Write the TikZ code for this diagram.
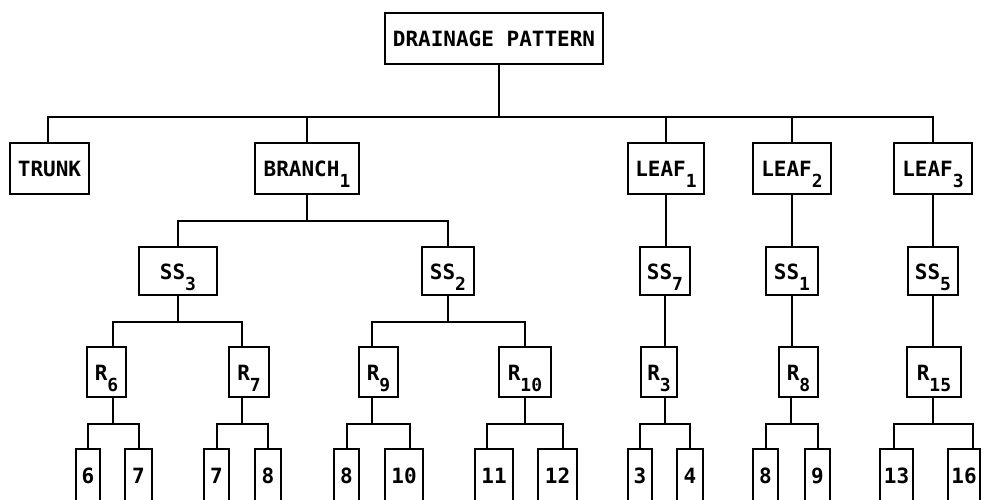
\documentclass[tikz,border=0pt]{standalone}
\usepackage{fontspec}
\setmonofont{DejaVu Sans Mono}
\newcommand{\sbs}[1]{\raisebox{-11pt}{\fontsize{18}{18}\selectfont #1}}
\newcommand{\bxn}[6]{\node[bx, minimum width={(#4)-(#2)}, minimum height={(#5)-(#3)}] (#1) at ({((#2)+(#4))/2},{((#3)+(#5))/2}) {#6};}
\begin{document}
\begin{tikzpicture}[x=1pt,y=-1pt,
  bx/.style={draw, line width=2pt, inner sep=0pt, text height=16pt, text depth=0pt, font=\ttfamily\bfseries\fontsize{21}{21}\selectfont},
  ln/.style={line width=2pt}]
\useasboundingbox (0,0) rectangle (987,500);
\clip (0,0) rectangle (987,500);
% level 1
\bxn{root}{385}{13}{603}{64}{DRAINAGE PATTERN}
% level 2
\bxn{trunk}{10}{143}{89}{194}{TRUNK}
\bxn{branch}{255}{143}{359}{194}{BRANCH\sbs{1}}
\bxn{leafa}{628}{143}{704}{194}{LEAF\sbs{1}}
\bxn{leafb}{753}{143}{831}{194}{LEAF\sbs{2}}
\bxn{leafc}{894}{143}{972}{194}{LEAF\sbs{3}}
% level 3
\bxn{ssthree}{139}{247}{217}{295}{SS\sbs{3}}
\bxn{sstwo}{422}{247}{474}{295}{SS\sbs{2}}
\bxn{ssseven}{640}{247}{690}{295}{SS\sbs{7}}
\bxn{ssone}{766}{247}{818}{295}{SS\sbs{1}}
\bxn{ssfive}{908}{247}{958}{295}{SS\sbs{5}}
% level 4
\bxn{rsix}{87}{347}{126}{397}{R\sbs{6}}
\bxn{rseven}{229}{347}{269}{397}{R\sbs{7}}
\bxn{rnine}{359}{347}{398}{397}{R\sbs{9}}
\bxn{rten}{499}{347}{551}{397}{R\sbs{10}}
\bxn{rthree}{641}{347}{677}{397}{R\sbs{3}}
\bxn{reight}{779}{347}{818}{397}{R\sbs{8}}
\bxn{rfifteen}{907}{347}{961}{397}{R\sbs{15}}
% level 5
\bxn{n1}{76}{449}{100}{501}{6}
\bxn{n2}{125}{449}{152}{501}{7}
\bxn{n3}{204}{449}{229}{501}{7}
\bxn{n4}{255}{449}{281}{501}{8}
\bxn{n5}{334}{449}{359}{501}{8}
\bxn{n6}{385}{449}{423}{501}{10}
\bxn{n7}{475}{449}{513}{501}{11}
\bxn{n8}{538}{449}{577}{501}{12}
\bxn{n9}{628}{449}{652}{501}{3}
\bxn{n10}{677}{449}{703}{501}{4}
\bxn{n11}{753}{449}{778}{501}{8}
\bxn{n12}{805}{449}{830}{501}{9}
\bxn{n13}{880}{449}{913}{501}{13}
\bxn{n14}{948}{449}{980}{501}{16}
% connectors level 1 -> 2
\draw[ln] ([xshift=5pt]root.south) -- ++(0,52) -| ([xshift=-1.5pt]trunk.north);
\draw[ln] ([xshift=5pt]root.south) -- ++(0,52) -| (branch.north);
\draw[ln] ([xshift=5pt]root.south) -- ++(0,52) -| (leafa.north);
\draw[ln] ([xshift=5pt]root.south) -- ++(0,52) -| (leafb.north);
\draw[ln] ([xshift=5pt]root.south) -- ++(0,52) -| (leafc.north);
% level 2 -> 3
\draw[ln] (branch.south) -- ++(0,26) -| (ssthree.north);
\draw[ln] (branch.south) -- ++(0,26) -| (sstwo.north);
\draw[ln] (leafa.south) -- (leafa.south |- ssseven.north);
\draw[ln] (leafb.south) -- (leafb.south |- ssone.north);
\draw[ln] (leafc.south) -- (leafc.south |- ssfive.north);
% level 3 -> 4
\draw[ln] (ssthree.south) -- ++(0,26) -| ([xshift=6.5pt]rsix.north);
\draw[ln] (ssthree.south) -- ++(0,26) -| ([xshift=-7pt]rseven.north);
\draw[ln] (sstwo.south) -- ++(0,26) -| ([xshift=-6.5pt]rnine.north);
\draw[ln] (sstwo.south) -- ++(0,26) -| (rten.north);
\draw[ln] (ssseven.south) -- (ssseven.south |- rthree.north);
\draw[ln] (ssone.south) -- (ssone.south |- reight.north);
\draw[ln] (ssfive.south) -- (ssfive.south |- rfifteen.north);
% level 4 -> 5
\draw[ln] ([xshift=6.5pt]rsix.south) -- ++(0,26) -| (n1.north);
\draw[ln] ([xshift=6.5pt]rsix.south) -- ++(0,26) -| (n2.north);
\draw[ln] ([xshift=-7pt]rseven.south) -- ++(0,26) -| (n3.north);
\draw[ln] ([xshift=-7pt]rseven.south) -- ++(0,26) -| (n4.north);
\draw[ln] ([xshift=-6.5pt]rnine.south) -- ++(0,26) -| (n5.north);
\draw[ln] ([xshift=-6.5pt]rnine.south) -- ++(0,26) -| ([xshift=6pt]n6.north);
\draw[ln] (rten.south) -- ++(0,26) -| ([xshift=-7pt]n7.north);
\draw[ln] (rten.south) -- ++(0,26) -| ([xshift=5.5pt]n8.north);
\draw[ln] ([xshift=6pt]rthree.south) -- ++(0,26) -| (n9.north);
\draw[ln] ([xshift=6pt]rthree.south) -- ++(0,26) -| (n10.north);
\draw[ln] ([xshift=-7.5pt]reight.south) -- ++(0,26) -| (n11.north);
\draw[ln] ([xshift=-7.5pt]reight.south) -- ++(0,26) -| (n12.north);
\draw[ln] ([xshift=-1pt]rfifteen.south) -- ++(0,26) -| ([xshift=-2.5pt]n13.north);
\draw[ln] ([xshift=-1pt]rfifteen.south) -- ++(0,26) -| ([xshift=9pt]n14.north);
\end{tikzpicture}
\end{document}
